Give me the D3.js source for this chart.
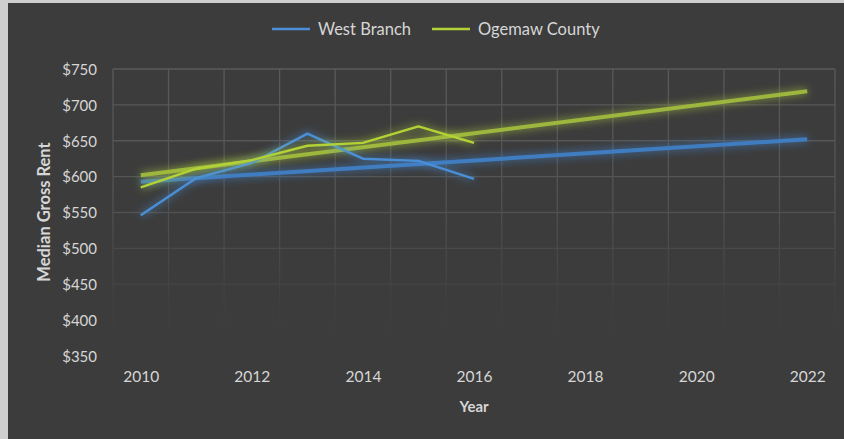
<!DOCTYPE html>
<html><head><meta charset="utf-8">
<script src="https://cdn.jsdelivr.net/npm/d3@7"></script>
<style>
html,body{margin:0;padding:0;background:#d8d8d8;}
svg{display:block;}
text{font-family:Lato,"Open Sans",sans-serif;}
</style></head>
<body>
<svg id="c" width="844" height="439"></svg>
<script>
const years = [2010, 2011, 2012, 2013, 2014, 2015, 2016];
const westBranch = [546, 598, 619, 660, 625, 622, 597];
const ogemaw = [585, 611, 623, 643, 647, 670, 647];
const trendYears = [2010, 2022];
const westBranchTrend = [593, 652];
const ogemawTrend = [602, 719];
const xTickLabels = [2010, 2012, 2014, 2016, 2018, 2020, 2022];
const yTicks = [350, 400, 450, 500, 550, 600, 650, 700, 750];
const seriesNames = ["West Branch", "Ogemaw County"];

const svg = d3.select("#c");
const W = 844, H = 439;
svg.append("rect").attr("x",0).attr("y",0).attr("width",W).attr("height",H).attr("fill","#cfcfcf");
svg.append("rect").attr("x",8).attr("y",3).attr("width",W-8).attr("height",H-3).attr("fill","#3c3c3c");

const defs = svg.append("defs");
const glow = defs.append("filter").attr("id","glow").attr("x","-20%").attr("y","-50%").attr("width","140%").attr("height","200%");
glow.append("feGaussianBlur").attr("stdDeviation",4).attr("result","b");
const fm = glow.append("feMerge");
fm.append("feMergeNode").attr("in","b");
fm.append("feMergeNode").attr("in","SourceGraphic");
const fade = defs.append("linearGradient").attr("id","fade").attr("x1",0).attr("y1",0).attr("x2",0).attr("y2",1);
fade.append("stop").attr("offset","0%").attr("stop-color","#fff").attr("stop-opacity",0.9);
fade.append("stop").attr("offset","45%").attr("stop-color","#fff").attr("stop-opacity",0.7);
fade.append("stop").attr("offset","80%").attr("stop-color","#fff").attr("stop-opacity",0.1);
fade.append("stop").attr("offset","100%").attr("stop-color","#fff").attr("stop-opacity",0);
const mask = defs.append("mask").attr("id","gm");
mask.append("rect").attr("x",100).attr("y",60).attr("width",750).attr("height",305).attr("fill","url(#fade)");

const x = d3.scaleLinear().domain([2009.5, 2022.5]).range([113, 835]);
const y = d3.scaleLinear().domain([350, 750]).range([356, 69]);

const grid = svg.append("g").attr("mask","url(#gm)");
grid.selectAll("line.h").data(yTicks).join("line")
  .attr("x1",x(2009.5)).attr("x2",x(2022.5))
  .attr("y1",d=>y(d)).attr("y2",d=>y(d))
  .attr("stroke","#5e5e5e").attr("stroke-width",1.3);
grid.selectAll("line.v").data(d3.range(2009.5, 2023, 1)).join("line")
  .attr("x1",d=>x(d)).attr("x2",d=>x(d))
  .attr("y1",y(750)).attr("y2",y(350))
  .attr("stroke","#5e5e5e").attr("stroke-width",1.3);

const txt = "#d6d6d6";
const yAxis = d3.axisLeft(y).tickValues(yTicks).tickFormat(d=>"$"+d).tickSize(0).tickPadding(0);
const ga = svg.append("g").attr("transform","translate(97,0)").call(yAxis);
ga.select(".domain").remove();
ga.selectAll("text").attr("fill",txt).attr("font-size",15).attr("font-family","Lato,sans-serif").attr("dy","0.35em");

const xAxis = d3.axisBottom(x).tickValues(xTickLabels).tickFormat(d3.format("d")).tickSize(0).tickPadding(0);
const gx = svg.append("g").attr("transform","translate(0,371)").call(xAxis);
gx.select(".domain").remove();
gx.selectAll("text").attr("fill",txt).attr("font-size",15.5).attr("font-family","Lato,sans-serif").attr("dy","0.71em");

svg.append("text").attr("x",474).attr("y",412).attr("text-anchor","middle")
  .attr("fill",txt).attr("font-size",15).attr("font-weight","bold").text("Year");
svg.append("text").attr("transform","translate(50,212) rotate(-90)").attr("text-anchor","middle")
  .attr("fill",txt).attr("font-size",16.5).attr("font-weight","bold").text("Median Gross Rent");

const line = d3.line().x(d=>x(d[0])).y(d=>y(d[1]));
const blue = "#4a8fd8", green = "#b2d235";
const blueT = "#3f7cc0", greenT = "#9db63d";
const plot = svg.append("g");
plot.append("path").datum(trendYears.map((t,i)=>[t, westBranchTrend[i]]))
  .attr("d",line).attr("fill","none").attr("stroke",blueT).attr("stroke-width",4).attr("filter","url(#glow)");
plot.append("path").datum(trendYears.map((t,i)=>[t, ogemawTrend[i]]))
  .attr("d",line).attr("fill","none").attr("stroke",greenT).attr("stroke-width",4).attr("filter","url(#glow)");
plot.append("path").datum(years.map((t,i)=>[t, westBranch[i]]))
  .attr("d",line).attr("fill","none").attr("stroke",blue).attr("stroke-width",2.4).attr("stroke-linejoin","round").attr("filter","url(#glow)");
plot.append("path").datum(years.map((t,i)=>[t, ogemaw[i]]))
  .attr("d",line).attr("fill","none").attr("stroke",green).attr("stroke-width",2.4).attr("stroke-linejoin","round").attr("filter","url(#glow)");

const leg = svg.append("g");
const legItems = [{name:seriesNames[0], c:blue, x:272},{name:seriesNames[1], c:green, x:432}];
legItems.forEach(it=>{
  leg.append("line").attr("x1",it.x).attr("x2",it.x+38).attr("y1",29).attr("y2",29)
    .attr("stroke",it.c).attr("stroke-width",2.5);
  leg.append("text").attr("x",it.x+46).attr("y",29).attr("dy","0.35em")
    .attr("fill",txt).attr("font-size",16.5).text(it.name);
});
</script>
</body></html>
